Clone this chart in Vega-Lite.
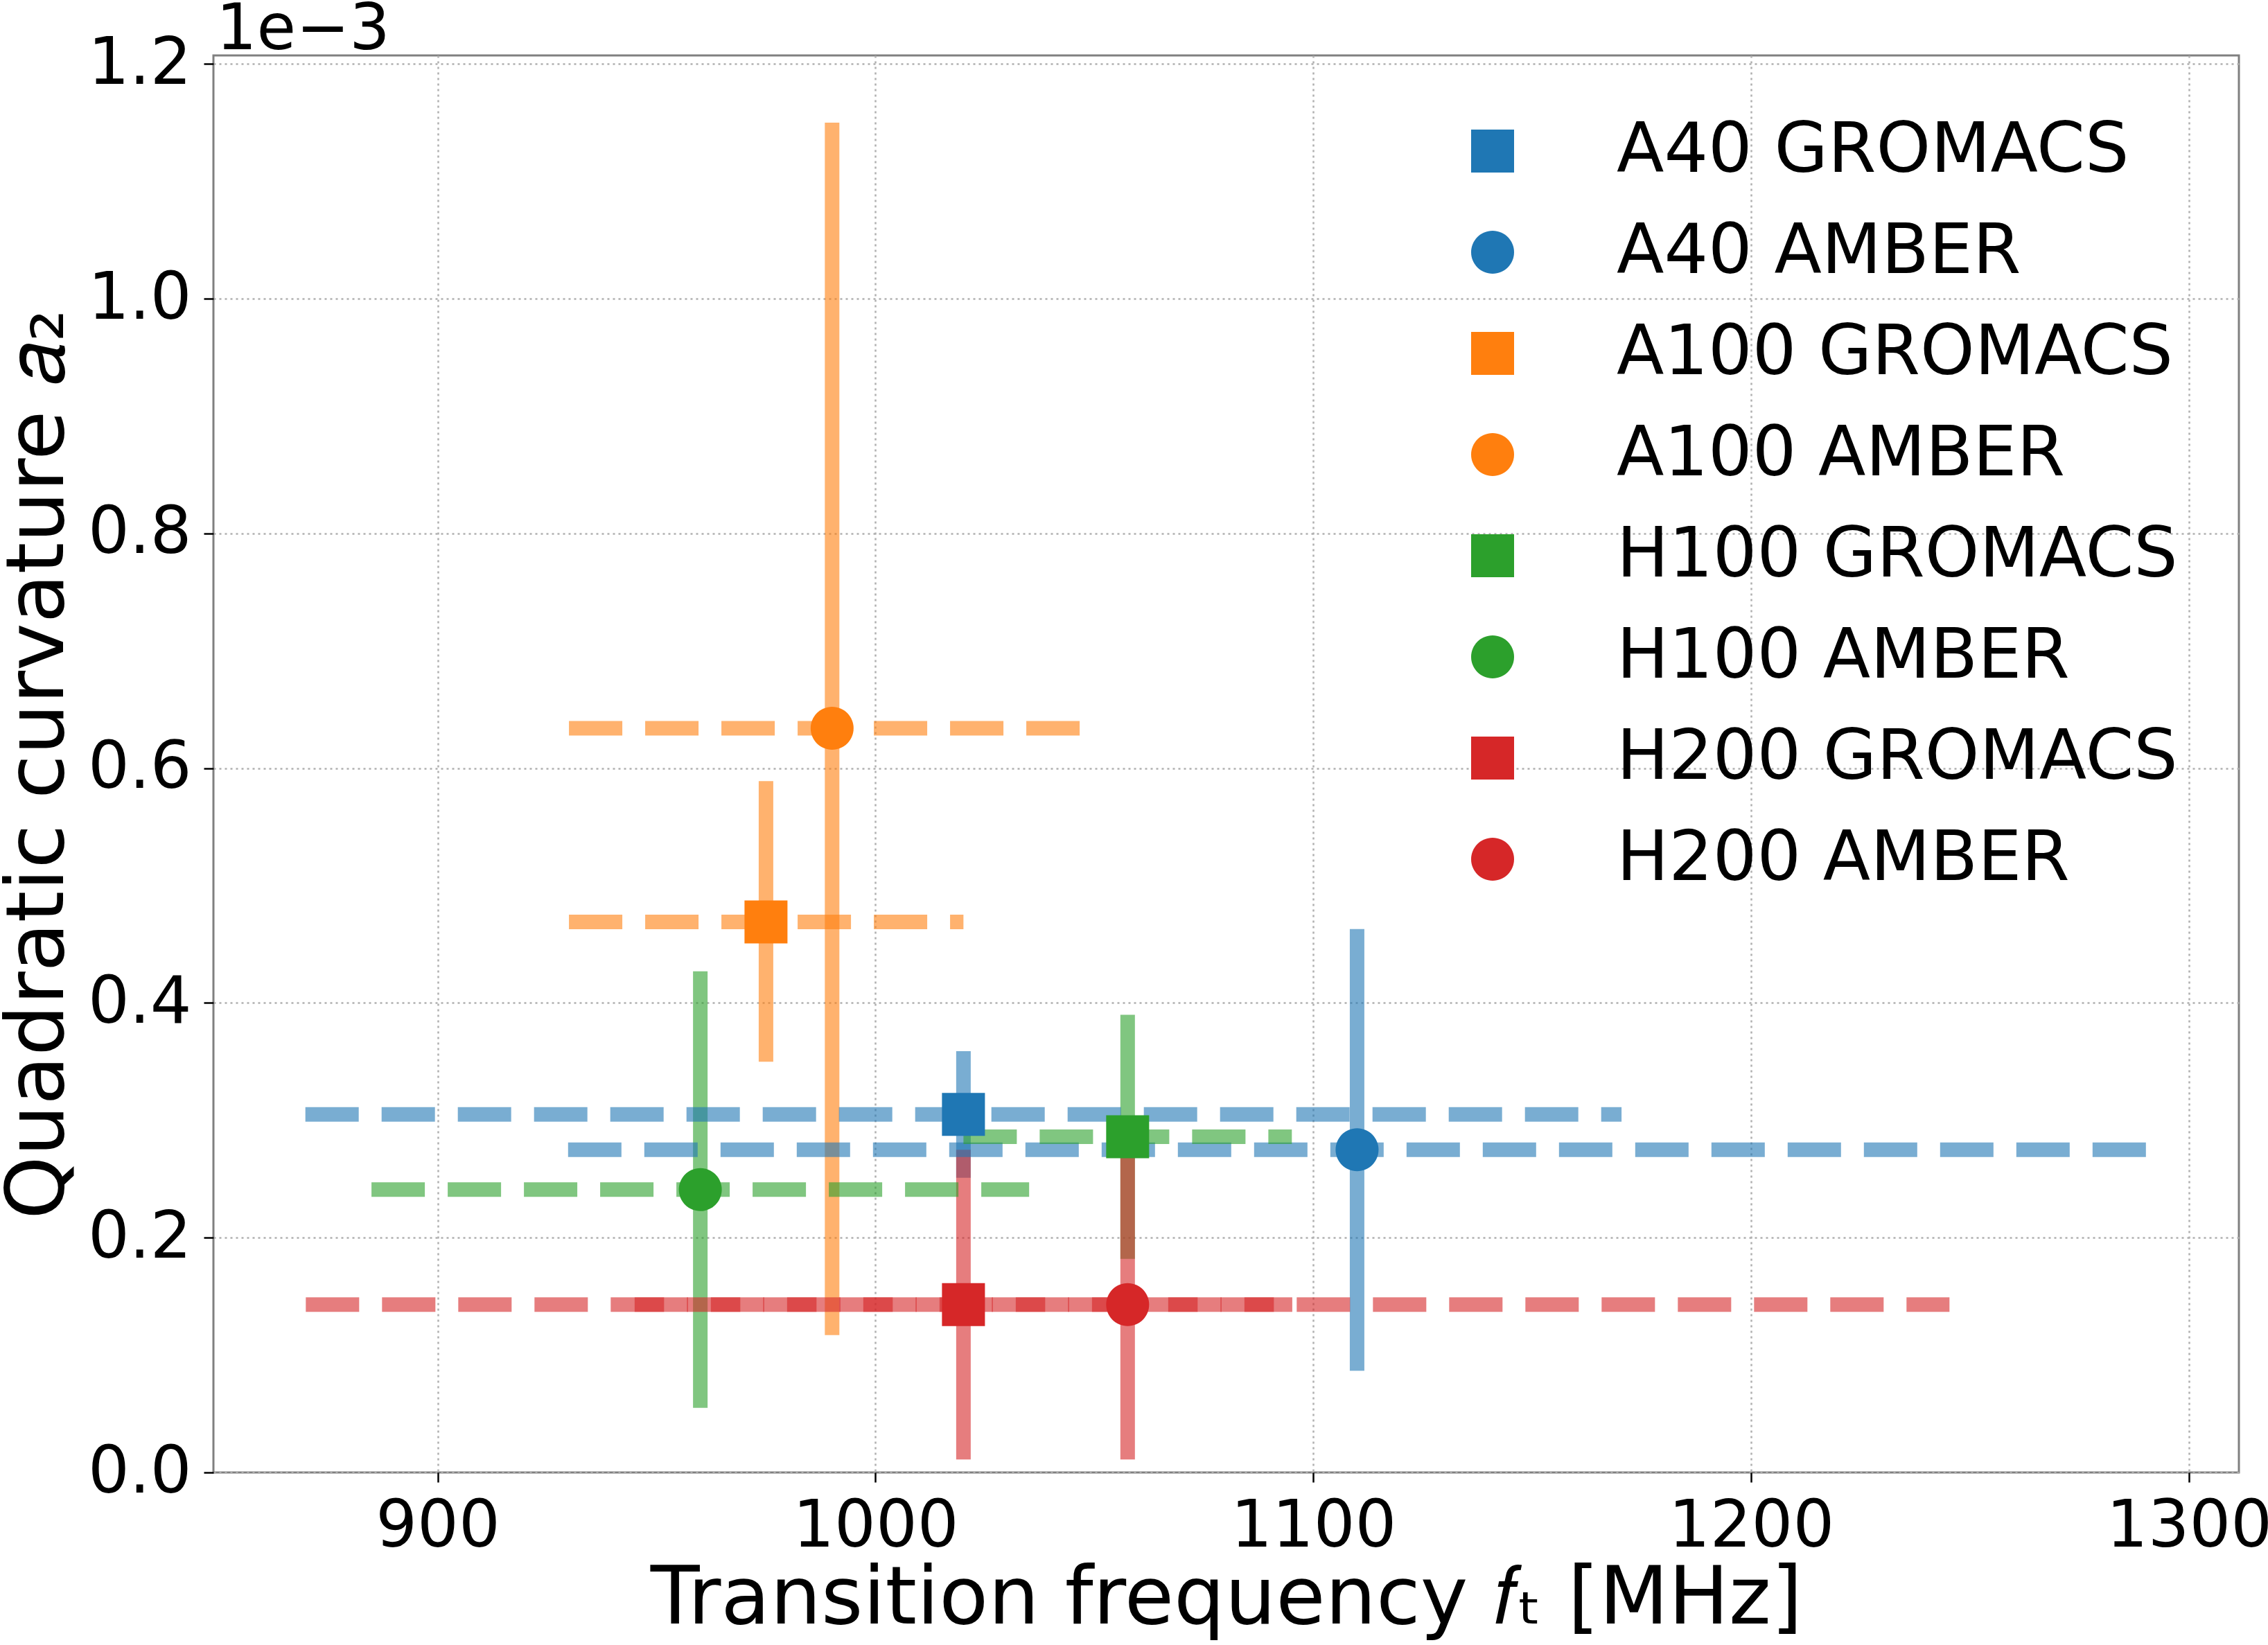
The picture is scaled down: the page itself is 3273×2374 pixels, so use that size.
{
  "$schema": "https://vega.github.io/schema/vega-lite/v6.json",
  "autosize": {"type": "none"},
  "width": 2923,
  "height": 2045,
  "padding": {"left": 308, "top": 80, "right": 42, "bottom": 249},
  "background": "white",
  "title": {"text": "1e−3", "anchor": "start", "frame": "group", "fontSize": 92, "fontWeight": "normal", "font": "DejaVu Sans", "color": "black", "offset": 8, "dx": 4, "dy": 53},
  "config": {
    "font": "DejaVu Sans",
    "view": {"stroke": "#808080", "strokeWidth": 3},
    "axis": {
      "domain": false,
      "grid": true,
      "gridColor": "#b0b0b0",
      "gridWidth": 2.5,
      "gridDash": [3, 5],
      "tickColor": "black",
      "tickSize": 14,
      "tickWidth": 2.5,
      "labelFont": "DejaVu Sans",
      "labelFontSize": 94,
      "labelColor": "black",
      "labelLimit": 1000,
      "titleFont": "DejaVu Sans",
      "titleFontSize": 116,
      "titleFontWeight": "normal",
      "titleColor": "black",
      "titleLimit": 3000
    },
    "legend": {
      "labelFont": "DejaVu Sans",
      "labelFontSize": 100,
      "labelColor": "black",
      "labelLimit": 2000
    }
  },
  "data": {
    "values": [
      {"series": "A40 GROMACS", "f": 1020.1, "f_lo": 869.8, "f_hi": 1170.4, "a2": 0.000305, "a2_lo": 0.000251, "a2_hi": 0.000359},
      {"series": "A40 AMBER", "f": 1110.0, "f_lo": 929.8, "f_hi": 1290.4, "a2": 0.000275, "a2_lo": 0.0000866, "a2_hi": 0.000463},
      {"series": "A100 GROMACS", "f": 975.0, "f_lo": 930.0, "f_hi": 1020.1, "a2": 0.000469, "a2_lo": 0.000350, "a2_hi": 0.000589},
      {"series": "A100 AMBER", "f": 990.1, "f_lo": 930.0, "f_hi": 1050.2, "a2": 0.000634, "a2_lo": 0.000117, "a2_hi": 0.00115},
      {"series": "H100 GROMACS", "f": 1057.6, "f_lo": 1020.1, "f_hi": 1095.1, "a2": 0.000286, "a2_lo": 0.000182, "a2_hi": 0.000390},
      {"series": "H100 AMBER", "f": 960.0, "f_lo": 884.9, "f_hi": 1035.1, "a2": 0.000241, "a2_lo": 0.0000551, "a2_hi": 0.000427},
      {"series": "H200 GROMACS", "f": 1020.1, "f_lo": 945.0, "f_hi": 1095.2, "a2": 0.000143, "a2_lo": 0.0000111, "a2_hi": 0.000275},
      {"series": "H200 AMBER", "f": 1057.6, "f_lo": 869.9, "f_hi": 1245.3, "a2": 0.000143, "a2_lo": 0.0000111, "a2_hi": 0.000275}
    ]
  },
  "layer": [
    {
      "mark": {"type": "rule", "strokeWidth": 21, "opacity": 0.6, "strokeCap": "butt"},
      "encoding": {
        "x": {"field": "f", "type": "quantitative"},
        "y": {"field": "a2_lo", "type": "quantitative"},
        "y2": {"field": "a2_hi"},
        "color": {"field": "series", "type": "nominal"}
      }
    },
    {
      "mark": {"type": "rule", "strokeWidth": 21, "opacity": 0.6, "strokeCap": "butt", "strokeDash": [77, 33]},
      "encoding": {
        "x": {"field": "f_lo", "type": "quantitative"},
        "x2": {"field": "f_hi"},
        "y": {"field": "a2", "type": "quantitative"},
        "color": {"field": "series", "type": "nominal"}
      }
    },
    {
      "mark": {"type": "point", "filled": true, "opacity": 1, "size": 3844, "strokeWidth": 0},
      "encoding": {
        "x": {
          "field": "f", "type": "quantitative",
          "scale": {"domain": [848.8, 1311.4], "nice": false, "zero": false},
          "axis": {"values": [900, 1000, 1100, 1200, 1300], "title": "Transition frequency 𝑓ₜ [MHz]", "labelPadding": 18, "titlePadding": 0, "format": "d"}
        },
        "y": {
          "field": "a2", "type": "quantitative",
          "scale": {"domain": [0, 0.0012073], "nice": false, "zero": false},
          "axis": {"values": [0, 0.0002, 0.0004, 0.0006, 0.0008, 0.001, 0.0012], "labelExpr": "format(datum.value * 1000, '.1f')", "title": "Quadratic curvature 𝑎₂", "labelPadding": 18, "titlePadding": 12}
        },
        "color": {
          "field": "series", "type": "nominal",
          "scale": {
            "domain": ["A40 GROMACS", "A40 AMBER", "A100 GROMACS", "A100 AMBER", "H100 GROMACS", "H100 AMBER", "H200 GROMACS", "H200 AMBER"],
            "range": ["#1f77b4", "#1f77b4", "#ff7f0e", "#ff7f0e", "#2ca02c", "#2ca02c", "#d62728", "#d62728"]
          },
          "legend": {
            "title": null, "orient": "top-right", "offset": 88, "symbolSize": 3844, "symbolStrokeWidth": 0, "symbolOpacity": 1,
            "labelOffset": 129, "rowPadding": 46, "padding": 0,
            "encode": {"symbols": {"update": {"opacity": {"value": 1}, "fillOpacity": {"value": 1}}}}
          }
        },
        "shape": {
          "field": "series", "type": "nominal",
          "scale": {
            "domain": ["A40 GROMACS", "A40 AMBER", "A100 GROMACS", "A100 AMBER", "H100 GROMACS", "H100 AMBER", "H200 GROMACS", "H200 AMBER"],
            "range": ["square", "M-1,0A1,1,0,1,1,1,0A1,1,0,1,1,-1,0Z", "square", "M-1,0A1,1,0,1,1,1,0A1,1,0,1,1,-1,0Z", "square", "M-1,0A1,1,0,1,1,1,0A1,1,0,1,1,-1,0Z", "square", "M-1,0A1,1,0,1,1,1,0A1,1,0,1,1,-1,0Z"]
          },
          "legend": {"title": null}
        }
      }
    }
  ]
}
